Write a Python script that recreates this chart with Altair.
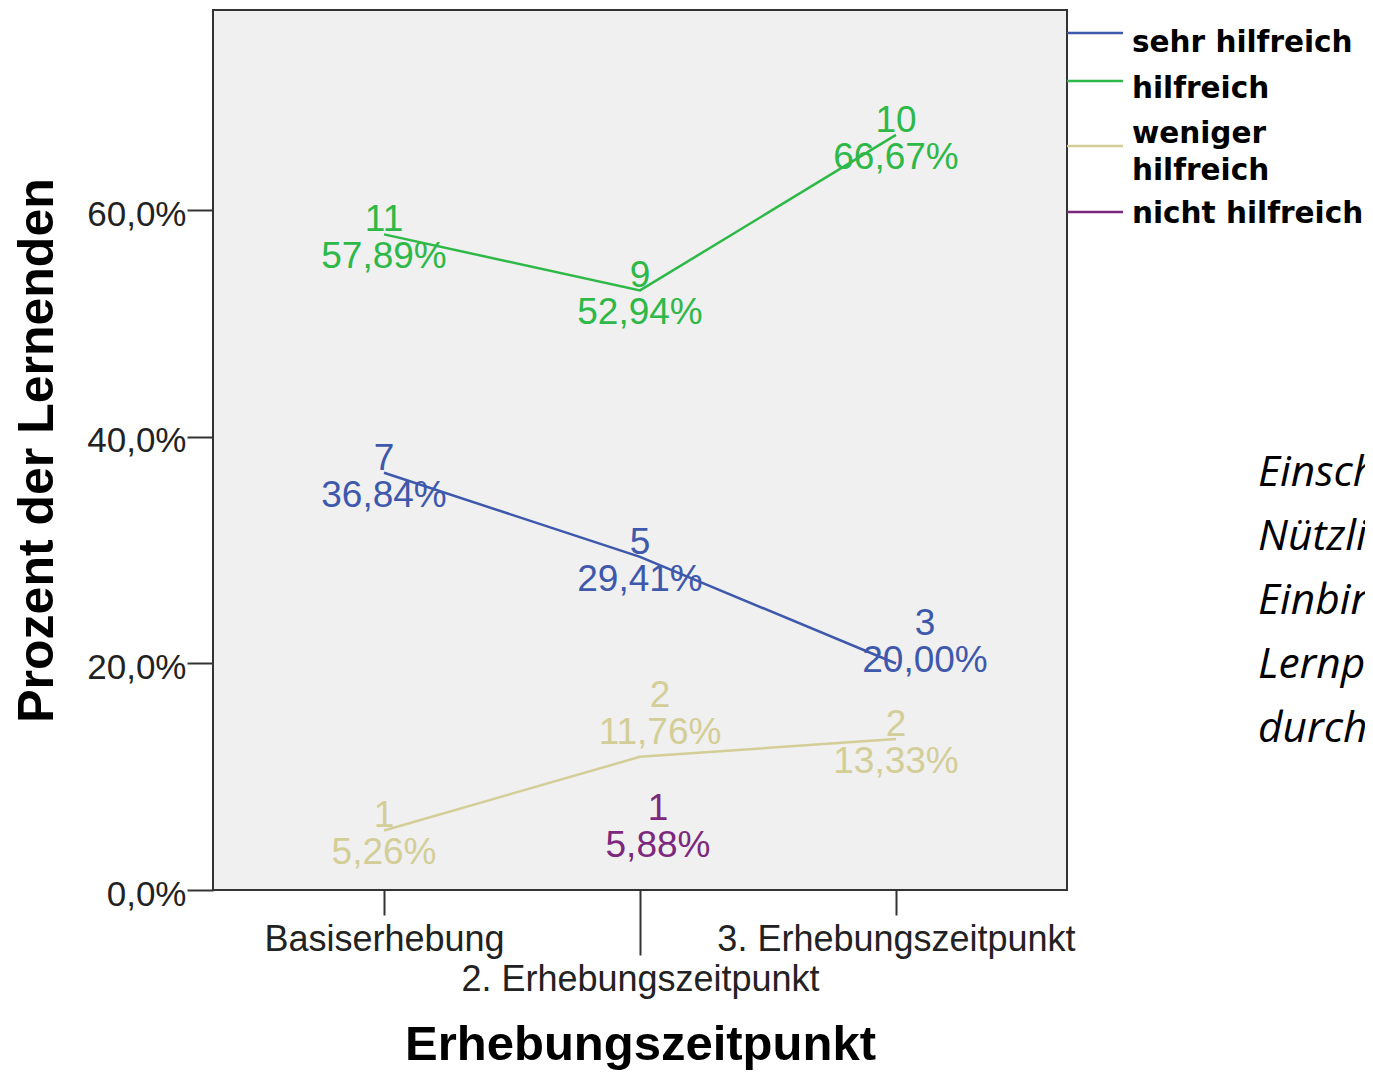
import altair as alt
import pandas as pd

# ---------------- data ----------------
times = ["Basiserhebung", "2. Erhebungszeitpunkt", "3. Erhebungszeitpunkt"]
series = ["sehr hilfreich", "hilfreich", "weniger hilfreich", "nicht hilfreich"]
colors = ["#3E58AC", "#2EB848", "#D3CE97", "#7C287D"]

counts_sehr = [7, 5, 3]
counts_hilf = [11, 9, 10]
counts_wenig = [1, 2, 2]
counts_nicht = [None, 1, None]

pct_sehr = [36.84, 29.41, 20.00]
pct_hilf = [57.89, 52.94, 66.67]
pct_wenig = [5.26, 11.76, 13.33]
pct_nicht = [None, 5.88, None]

y_ticks = [0, 20, 40, 60]
y_max = 77.7

side_text = ["Einschätzung der", "Nützlichkeit der", "Einbindung in den",
             "Lernprozess", "durch die Lernenden"]

# ---------------- layout helpers (not data) ----------------
# pixel nudges SPSS applied to some data labels to avoid overlap
label_nudge = {
    ("sehr hilfreich", "3. Erhebungszeitpunkt"): (29, -25),
    ("weniger hilfreich", "2. Erhebungszeitpunkt"): (20, -47),
    ("nicht hilfreich", "2. Erhebungszeitpunkt"): (18, 0),
}
legend_sym_slots = [0, 1, 2.354, 3.729]
legend_lab_slots = [0.396, 1.354, 2.292, 3.958]

counts_all = [counts_sehr, counts_hilf, counts_wenig, counts_nicht]
pct_all = [pct_sehr, pct_hilf, pct_wenig, pct_nicht]

rows = []
for s, cs, ps in zip(series, counts_all, pct_all):
    for i, (t, c, p) in enumerate(zip(times, cs, ps)):
        if c is None:
            continue
        nx, ny = label_nudge.get((s, t), (0, 0))
        rows.append({"Serie": s, "Zeitpunkt": t, "idx": i, "Anzahl": c,
                     "Prozent": p, "nx": nx, "ny": ny})
df = pd.DataFrame(rows)

FONT = "Liberation Sans"

color = alt.Color("Serie:N", scale=alt.Scale(domain=series, range=colors), legend=None)

x_enc = alt.X(
    "Zeitpunkt:N",
    sort=times,
    scale=alt.Scale(type="point", domain=times, padding=0.668),
    axis=alt.Axis(
        title="Erhebungszeitpunkt",
        titleFont=FONT, titleFontSize=49, titleFontWeight="bold", titleColor="#000",
        titleY=169, titleBaseline="alphabetic",
        labelFont=FONT, labelFontSize=36, labelColor="#222", labelAngle=0,
        labelOverlap=False, labelLimit=1000, labelBaseline="top",
        labelPadding=7,
        tickSize={"condition": {"test": "datum.value === '2. Erhebungszeitpunkt'", "value": 65}, "value": 25},
        tickColor="#333", tickWidth=2, domain=False, grid=False,
    ),
)
y_enc = alt.Y(
    "Prozent:Q",
    scale=alt.Scale(domain=[0, y_max], nice=False, zero=True),
    axis=alt.Axis(
        values=y_ticks,
        labelExpr="replace(format(datum.value, '.1f'), '.', ',') + '%'",
        title="Prozent der Lernenden",
        titleFont=FONT, titleFontSize=50, titleFontWeight="bold", titleColor="#000",
        titleX=-161, titleY=440, titleBaseline="alphabetic", titleAngle=270, titleAlign="center",
        labelFont=FONT, labelFontSize=35, labelColor="#222", labelPadding=1, labelOffset=4,
        tickSize=26, tickColor="#333", tickWidth=2, domain=False, grid=False,
    ),
)

base = alt.Chart(df).encode(x=x_enc, y=y_enc, color=color)

lines = base.mark_line(strokeWidth=2.5).encode(order=alt.Order("idx:Q"), detail="Serie:N")

counts = base.mark_text(
    font=FONT, fontSize=37, baseline="alphabetic", align="center",
    dx={"expr": "datum.nx"}, dy={"expr": "datum.ny - 3"},
).encode(text=alt.Text("Anzahl:Q", format="d"))

pcts = base.transform_calculate(
    lab="replace(format(datum.Prozent, '.2f'), '.', ',') + '%'"
).mark_text(
    font=FONT, fontSize=37, baseline="top", align="center",
    dx={"expr": "datum.nx"}, dy={"expr": "datum.ny + 5"},
).encode(text="lab:N")

main = alt.layer(lines, counts, pcts)

# ---------------- legend (built from the series list) ----------------
legend_df = pd.DataFrame({
    "Serie": series,
    "sym": legend_sym_slots,
    "labslot": legend_lab_slots,
    "Text": [s.replace("weniger ", "weniger\n") for s in series],
})
leg_scale = alt.Scale(domain=[0, 1], range=[23, 71])
leg_base = alt.Chart(legend_df)
leg_rules = leg_base.mark_rule(strokeWidth=2.5).encode(
    x=alt.value(854), x2=alt.value(910),
    y=alt.Y("sym:Q", scale=leg_scale, axis=None),
    color=color,
)
leg_text = leg_base.mark_text(
    font="DejaVu Sans", fontSize=29.5, fontWeight="bold", align="left",
    baseline="alphabetic", lineBreak="\n", lineHeight=37, color="#000",
).encode(
    x=alt.value(919),
    y=alt.Y("labslot:Q", scale=leg_scale, axis=None),
    text="Text:N",
)
legend = alt.layer(leg_rules, leg_text)

annot = alt.Chart(pd.DataFrame({"a": [0]})).mark_text(
    text=side_text, font="Open Sans", fontStyle="italic", fontSize=42.5,
    align="left", baseline="alphabetic", lineHeight=64, color="#000",
).encode(x=alt.value(1045), y=alt.value(476))

chart = alt.layer(main, legend, annot).resolve_scale(y="independent").properties(
    width=854, height=880,
    autosize=alt.AutoSizeParams(type="none"),
    padding={"left": 205, "top": 2, "right": 298, "bottom": 180},
    background="white",
).configure_view(fill="#F0F0F0", stroke="#333", strokeWidth=2)

chart.save("out.html", embed_options={"renderer": "svg", "actions": False})
